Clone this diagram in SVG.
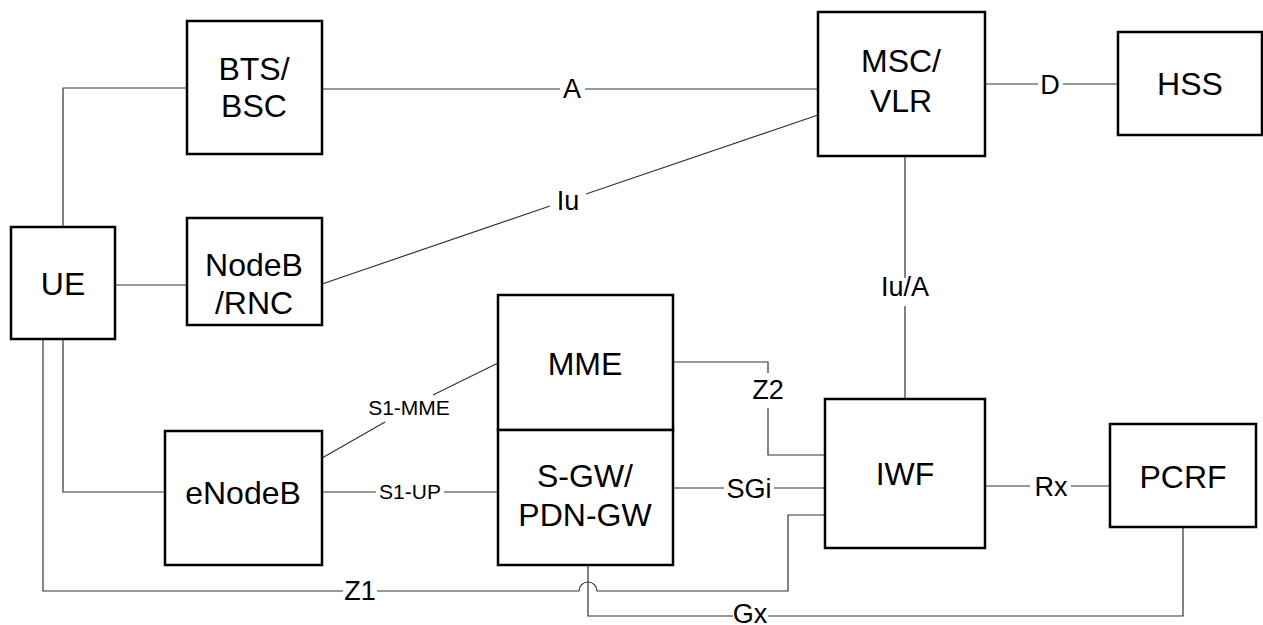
<svg xmlns="http://www.w3.org/2000/svg" width="1263" height="625" viewBox="0 0 1263 625">
<style>
.box{fill:#fff;stroke:#000;stroke-width:2.5}
.bt{font-family:"Liberation Sans",Arial,sans-serif;font-size:32px;text-anchor:middle;fill:#000}
.ln{fill:none;stroke:#333;stroke-width:1.2}
.lb{font-family:"Liberation Sans",Arial,sans-serif;font-size:27px;text-anchor:middle;fill:#000}
.ls{font-family:"Liberation Sans",Arial,sans-serif;font-size:21px;text-anchor:middle;fill:#000}
</style>
<rect width="1263" height="625" fill="#fff"/>
<g id="connectors">
<path class="ln" d="M63 227 V88 H187"/>
<path class="ln" d="M115 285 H187"/>
<path class="ln" d="M322 89 H560 M585 89 H818"/>
<path class="ln" d="M322 284 L550 206 M586 194 L818 115"/>
<path class="ln" d="M985 84 H1038 M1063 84 H1118"/>
<path class="ln" d="M905 156 V278 M905 306 V399"/>
<path class="ln" d="M63 339 V492 H165"/>
<path class="ln" d="M322 458 L385 422 M433 395 L498 363"/>
<path class="ln" d="M322 492 H376 M444 492 H498"/>
<path class="ln" d="M673 362 H768 V373 M768 408 V455 H825"/>
<path class="ln" d="M673 488 H724 M774 488 H825"/>
<path class="ln" d="M985 486 H1030 M1071 486 H1110"/>
<path class="ln" d="M43 339 V591 H343 M377 591 H579 A9 9 0 0 1 597 591 H788 V515 H825"/>
<path class="ln" d="M588 565 V616 H733 M768 616 H1183 V527"/>
<text class="lb" x="572" y="98">A</text>
<text class="lb" x="568" y="210">Iu</text>
<text class="lb" x="1050" y="94">D</text>
<text class="lb" x="905" y="296">Iu/A</text>
<text class="lb" x="768" y="399">Z2</text>
<text class="lb" x="749" y="498">SGi</text>
<text class="lb" x="1051" y="496">Rx</text>
<text class="lb" x="360" y="600">Z1</text>
<text class="lb" x="750" y="623">Gx</text>
<text class="ls" x="409" y="415">S1-MME</text>
<text class="ls" x="410" y="499">S1-UP</text>
</g>
<g id="bts"><rect class="box" x="187" y="21" width="135" height="133"/><text class="bt" x="254" y="80">BTS/</text><text class="bt" x="254" y="117">BSC</text></g>
<g id="ue"><rect class="box" x="11" y="227" width="104" height="112"/><text class="bt" x="63" y="295">UE</text></g>
<g id="nodeb"><rect class="box" x="187" y="218" width="135" height="107"/><text class="bt" x="254" y="276">NodeB</text><text class="bt" x="254" y="314">/RNC</text></g>
<g id="msc"><rect class="box" x="818" y="12" width="167" height="144"/><text class="bt" x="901" y="72">MSC/</text><text class="bt" x="901" y="112">VLR</text></g>
<g id="hss"><rect class="box" x="1118" y="32" width="144" height="103"/><text class="bt" x="1190" y="95">HSS</text></g>
<g id="enodeb"><rect class="box" x="165" y="431" width="157" height="134"/><text class="bt" x="243" y="504">eNodeB</text></g>
<g id="mme"><rect class="box" x="498" y="295" width="175" height="135"/><text class="bt" x="585" y="375">MME</text></g>
<g id="sgw"><rect class="box" x="498" y="430" width="175" height="135"/><text class="bt" x="585" y="487">S-GW/</text><text class="bt" x="585" y="526">PDN-GW</text></g>
<g id="iwf"><rect class="box" x="825" y="399" width="160" height="149"/><text class="bt" x="905" y="485">IWF</text></g>
<g id="pcrf"><rect class="box" x="1110" y="424" width="146" height="103"/><text class="bt" x="1183" y="488">PCRF</text></g>
</svg>
